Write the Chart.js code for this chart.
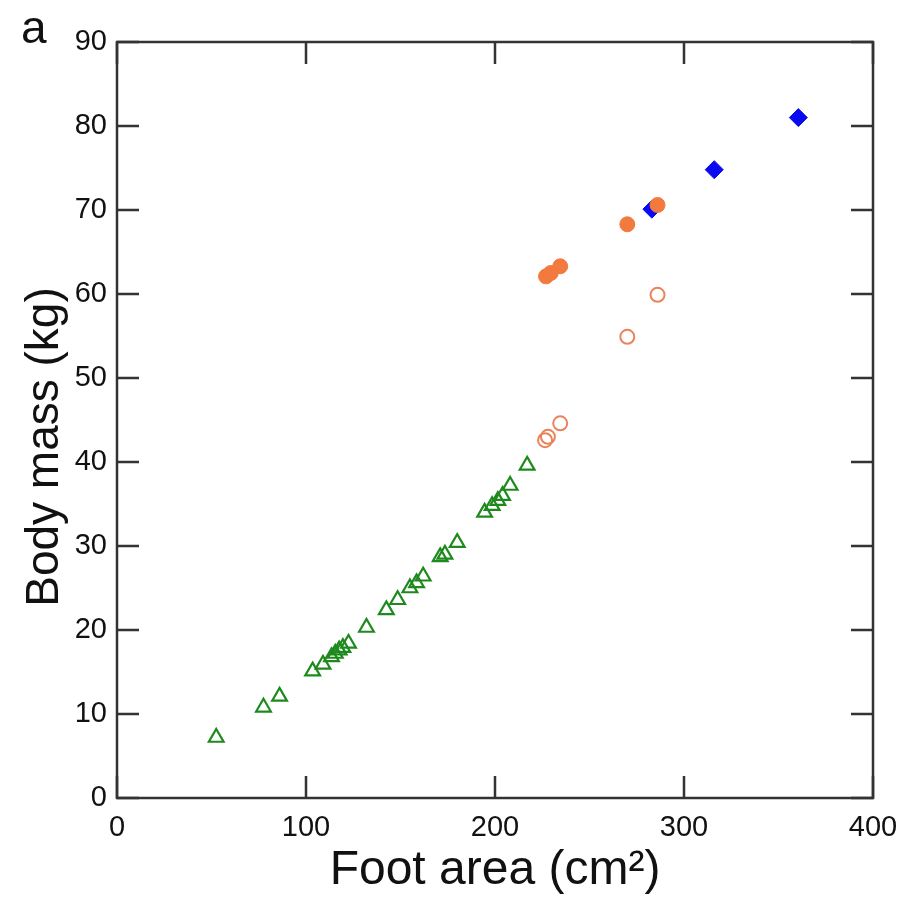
<!DOCTYPE html>
<html>
<head>
<meta charset="utf-8">
<script src="https://cdn.jsdelivr.net/npm/chart.js@4"></script>
<style>
  body { margin: 0; background: #fff; }
  canvas { display: block; }
</style>
</head>
<body>
<canvas id="myChart" width="904" height="904"></canvas>
<script>
// values
var greenX = [52.5, 77.5, 86, 103.5, 109, 113.5, 115.5, 117.5, 119.5, 122.5, 132, 142.5, 148.5, 155, 158.5, 162, 171, 173.5, 180, 194.5, 198.5, 201.5, 204, 208, 217];
var greenY = [7.2, 10.8, 12.1, 15.1, 15.9, 16.8, 17.2, 17.6, 17.9, 18.4, 20.3, 22.4, 23.6, 25.0, 25.6, 26.4, 28.7, 29.0, 30.4, 34.0, 34.8, 35.4, 36.0, 37.2, 39.6];
var openX = [226.5, 228, 234.5, 270, 286];
var openY = [42.6, 43.0, 44.6, 54.9, 59.9];
var filledX = [227, 229.5, 234.5, 270, 286];
var filledY = [62.1, 62.5, 63.3, 68.3, 70.6];
var blueX = [283, 316, 360.5];
var blueY = [70.1, 74.8, 81.0];

var xTicks = [0, 100, 200, 300, 400];
var yTicks = [0, 10, 20, 30, 40, 50, 60, 70, 80, 90];

function pts(xs, ys) {
    var out = [];
    for (var i = 0; i < xs.length; i++) {
        out.push({x: xs[i], y: ys[i]});
    }
    return out;
}

var tickFont = {family: "'Liberation Sans', Arial", size: 29};

// frame, inward ticks on all sides, y title and panel letter
var framePlugin = {
    id: 'frame',
    afterDatasetsDraw: function(chart) {
        var ctx = chart.ctx;
        var a = chart.chartArea;
        var xs = chart.scales.x, ys = chart.scales.y;
        var len = 22;
        ctx.save();
        ctx.strokeStyle = '#333';
        ctx.lineWidth = 2.5;
        ctx.beginPath();
        xTicks.forEach(function(v) {
            var px = xs.getPixelForValue(v);
            ctx.moveTo(px, a.bottom); ctx.lineTo(px, a.bottom - len);
            ctx.moveTo(px, a.top); ctx.lineTo(px, a.top + len);
        });
        yTicks.forEach(function(v) {
            var py = ys.getPixelForValue(v);
            ctx.moveTo(a.left, py); ctx.lineTo(a.left + len, py);
            ctx.moveTo(a.right, py); ctx.lineTo(a.right - len, py);
        });
        ctx.stroke();
        ctx.strokeRect(a.left, a.top, a.right - a.left, a.bottom - a.top);

        ctx.fillStyle = '#111';
        ctx.font = "46px 'Liberation Sans', Arial";
        ctx.textBaseline = 'alphabetic';
        ctx.textAlign = 'left';
        ctx.fillText('a', 21, 43);

        ctx.translate(58, 447);
        ctx.rotate(-Math.PI / 2);
        ctx.textAlign = 'center';
        ctx.fillText('Body mass (kg)', 0, 0);
        ctx.restore();
    }
};

const ctx = document.getElementById('myChart').getContext('2d');
const myChart = new Chart(ctx, {
    type: 'scatter',
    data: {
        datasets: [
            {
                label: 'filled',
                data: pts(filledX, filledY),
                pointStyle: 'circle',
                pointRadius: 7.5,
                backgroundColor: '#f27a3e',
                borderColor: '#f27a3e',
                borderWidth: 1
            },
            {
                label: 'open',
                data: pts(openX, openY),
                pointStyle: 'circle',
                pointRadius: 7,
                backgroundColor: 'rgba(0,0,0,0)',
                borderColor: '#ec825a',
                borderWidth: 2
            },
            {
                label: 'green',
                data: pts(greenX, greenY),
                pointStyle: 'triangle',
                pointRadius: 8.5,
                backgroundColor: 'rgba(0,0,0,0)',
                borderColor: '#1e8a1e',
                borderWidth: 2.2
            },
            {
                label: 'blue',
                data: pts(blueX, blueY),
                pointStyle: 'rectRot',
                pointRadius: 9,
                backgroundColor: '#0a0af0',
                borderColor: '#0a0af0',
                borderWidth: 1
            }
        ]
    },
    options: {
        responsive: false,
        animation: false,
        layout: {padding: {top: 42, right: 31, left: 0, bottom: 0}},
        plugins: {
            legend: {display: false},
            tooltip: {enabled: false}
        },
        scales: {
            x: {
                type: 'linear',
                min: 0,
                max: 400,
                afterBuildTicks: function(s) { s.ticks = xTicks.map(function(v) { return {value: v}; }); },
                afterFit: function(s) { s.height = 106; s.paddingLeft = 0; s.paddingRight = 0; },
                grid: {display: false, drawTicks: false},
                border: {display: false},
                ticks: {color: '#111', font: tickFont, padding: 13, maxRotation: 0},
                title: {
                    display: true,
                    text: 'Foot area (cm²)',
                    color: '#111',
                    font: {family: "'Liberation Sans', Arial", size: 48},
                    padding: {top: 0, bottom: 4}
                }
            },
            y: {
                type: 'linear',
                min: 0,
                max: 90,
                afterBuildTicks: function(s) { s.ticks = yTicks.map(function(v) { return {value: v}; }); },
                afterFit: function(s) { s.width = 117; s.paddingTop = 0; s.paddingBottom = 0; },
                grid: {display: false, drawTicks: false},
                border: {display: false},
                ticks: {color: '#111', font: tickFont, padding: 10}
            }
        }
    },
    plugins: [framePlugin]
});
</script>
</body>
</html>
